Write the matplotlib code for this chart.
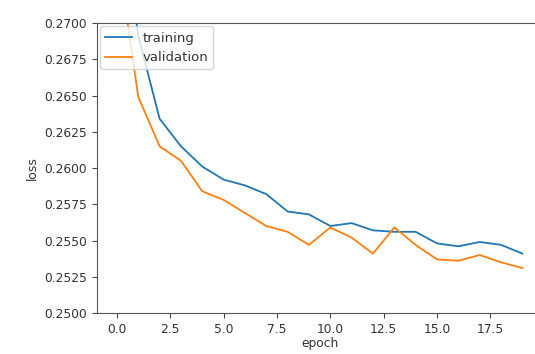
import matplotlib
matplotlib.use('Agg')
import matplotlib.pyplot as plt

# loss per epoch
epochs = list(range(20))
training = [0.2804, 0.2691, 0.2634, 0.2615, 0.2601, 0.2592, 0.2588, 0.2582, 0.2570, 0.2568,
            0.2560, 0.2562, 0.2557, 0.2556, 0.2556, 0.2548, 0.2546, 0.2549, 0.2547, 0.2541]
validation = [0.2751, 0.2649, 0.2615, 0.2605, 0.2584, 0.2578, 0.2569, 0.2560, 0.2556, 0.2547,
              0.2559, 0.2552, 0.2541, 0.2559, 0.2547, 0.2537, 0.2536, 0.2540, 0.2535, 0.2531]

plt.rcParams['font.size'] = 8.8
fig = plt.figure(figsize=(5.35, 3.54), dpi=100)
# the original picture is cropped on the right, so the axes run past the edge
ax = fig.add_axes([0.1807, 0.1158, 0.8335, 0.8192])
ax.plot(epochs, training, color='#1f77b4', lw=1.3, label='training')
ax.plot(epochs, validation, color='#ff7f0e', lw=1.3, label='validation')
ax.set_ylim(0.25, 0.27)
ax.set_xlim(-0.95, 19.95)
ax.set_xticks([0.0, 2.5, 5.0, 7.5, 10.0, 12.5, 15.0, 17.5])
ax.set_yticks([0.25, 0.2525, 0.255, 0.2575, 0.26, 0.2625, 0.265, 0.2675, 0.27])
ax.yaxis.set_major_formatter(matplotlib.ticker.FormatStrFormatter('%.4f'))
ax.xaxis.set_major_formatter(matplotlib.ticker.FormatStrFormatter('%.1f'))
ax.tick_params(colors='#444444', labelcolor='#333333')
for s in ax.spines.values():
    s.set_color('#555555')
ax.set_xlabel('epoch', color='#333333', labelpad=1)
ax.set_ylabel('loss', color='#333333')
leg = ax.legend(loc='upper left', fontsize=9.5, borderaxespad=0.25)
for t in leg.get_texts():
    t.set_color('#333333')
fig.savefig('out.png', dpi=100)
